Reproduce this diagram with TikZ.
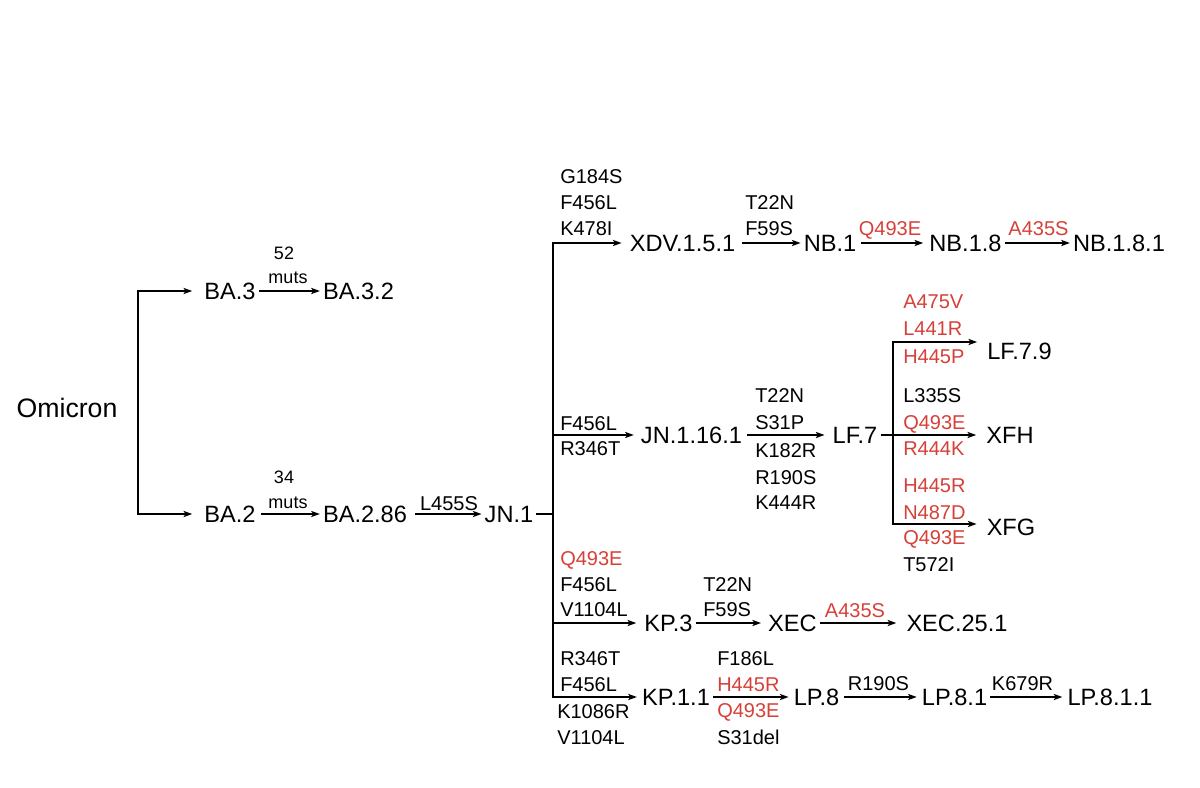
\documentclass[tikz,border=0pt]{standalone}
\usepackage{fontspec}
\setmainfont{Liberation Sans}
\usetikzlibrary{arrows.meta}
\definecolor{mutred}{RGB}{214,64,56}
\begin{document}
\begin{tikzpicture}[x=0.75pt,y=-0.75pt,
  lin/.style={line width=1.15pt},
  arr/.style={lin,-{Stealth[length=6.5pt,width=4.6pt,inset=1.5pt]}},
  lineage/.style={font=\fontsize{17.7}{20}\selectfont, inner xsep=2.2pt, inner ysep=0pt, text height=12.7pt, text depth=0pt},
  mut/.style={font=\fontsize{15}{18}\selectfont, inner sep=0pt, text height=10.7pt, text depth=0pt},
  mutl/.style={mut, anchor=west},
  rmut/.style={text=mutred},
  smalltxt/.style={font=\fontsize{13.5}{16}\selectfont, inner sep=0pt, text height=9.7pt, text depth=0pt}]
\useasboundingbox (0,0) rectangle (1200,788);

% lineage nodes
\node[lineage, font=\fontsize{20}{24}\selectfont, text height=14.3pt] (omicron) at (67,408) {Omicron};
\node[lineage] (ba3)   at (230,291)   {BA.3};
\node[lineage] (ba32)  at (358.5,291) {BA.3.2};
\node[lineage] (ba2)   at (230,514)   {BA.2};
\node[lineage] (ba286) at (365,514)   {BA.2.86};
\node[lineage] (jn1)   at (509,514)   {JN.1};
\node[lineage] (xdv)   at (682.5,243) {XDV.1.5.1};
\node[lineage] (nb1)   at (830,243)   {NB.1};
\node[lineage] (nb18)  at (965.5,243) {NB.1.8};
\node[lineage] (nb181) at (1119,243)  {NB.1.8.1};
\node[lineage] (jn116) at (691.5,435) {JN.1.16.1};
\node[lineage] (lf7)   at (855,435)   {LF.7};
\node[lineage] (lf79)  at (1019.5,351) {LF.7.9};
\node[lineage] (xfh)   at (1010,435)  {XFH};
\node[lineage] (xfg)   at (1011,527)  {XFG};
\node[lineage] (kp3)   at (668.5,623) {KP.3};
\node[lineage] (xec)   at (792.5,623) {XEC};
\node[lineage] (xec251) at (957,623)  {XEC.25.1};
\node[lineage] (kp11)  at (676,697)   {KP.1.1};
\node[lineage] (lp8)   at (816.5,697) {LP.8};
\node[lineage] (lp81)  at (954.5,697) {LP.8.1};
\node[lineage] (lp811) at (1110,697)  {LP.8.1.1};

% split points
\coordinate (omsplit) at (138,408);
\coordinate (jsplit) at (553,514);
\coordinate (lsplit) at (893,435);

% connectors
\draw[arr, shorten >=6.75pt] (omsplit) |- (ba3.west);
\draw[arr, shorten >=6.75pt] (omsplit) |- (ba2.west);
\draw[arr] (ba3) -- (ba32);
\draw[arr, shorten <=1.5pt] (ba2) -- (ba286);
\draw[arr, shorten <=3.75pt] (ba286) -- (jn1);
\draw[lin] (jn1.east) -- (jsplit);
\draw[arr, shorten >=3.75pt] (jsplit) |- (xdv.west);
\draw[arr, shorten >=3pt] (jsplit) |- (jn116.west);
\draw[arr, shorten >=3.75pt] (jsplit) |- (kp3.west);
\draw[arr, shorten >=1.5pt] (jsplit) |- (kp11.west);
\draw[arr, shorten <=3pt] (xdv) -- (nb1);
\draw[arr, shorten <=1.5pt, shorten >=2.25pt] (nb1) -- (nb18);
\draw[arr] (nb18) -- (nb181);
\draw[arr, shorten <=1.5pt, shorten >=3.75pt] (jn116) -- (lf7);
\draw[lin] (lf7.east) -- (lsplit);
\draw[arr, shorten >=5.25pt] (lsplit) |- ([yshift=6.75pt]lf79.west);
\draw[arr, shorten >=5.25pt] (lsplit) -- (xfh.west);
\draw[arr, shorten >=5.25pt] (lsplit) |- ([yshift=2.25pt]xfg.west);
\draw[arr, shorten >=3pt] (kp3) -- (xec);
\draw[arr, shorten >=5.25pt] (xec) -- (xec251);
\draw[arr, shorten >=1.5pt] (kp11) -- (lp8);
\draw[arr, shorten <=1.5pt, shorten >=1.5pt] (lp8) -- (lp81);
\draw[arr, shorten >=1.5pt] (lp81) -- (lp811);

% mutation labels
\node[smalltxt] (m52) at (284,253) {52};
\node[smalltxt] (mu1) at (288,277) {muts};
\node[smalltxt] (m34) at (284,477) {34};
\node[smalltxt] (mu2) at (288,502) {muts};
\node[mut] (l455s) at (449,503) {L455S};

\node[mutl] (a1) at (560,176) {G184S};
\node[mutl] (a2) at (560,202) {F456L};
\node[mutl] (a3) at (560,228) {K478I};
\node[mutl] (b1) at (745,202) {T22N};
\node[mutl] (b2) at (745,228) {F59S};
\node[mut, rmut] (c1) at (890,228) {Q493E};
\node[mut, rmut] (d1) at (1038.5,228) {A435S};

\node[mutl] (e1) at (560,423) {F456L};
\node[mutl] (e2) at (560,448) {R346T};
\node[mutl] (f1) at (755,395) {T22N};
\node[mutl] (f2) at (755,422) {S31P};
\node[mutl] (f3) at (755,450) {K182R};
\node[mutl] (f4) at (755,477) {R190S};
\node[mutl] (f5) at (755,502) {K444R};

\node[mutl, rmut] (g1) at (903,301) {A475V};
\node[mutl, rmut] (g2) at (903,328) {L441R};
\node[mutl, rmut] (g3) at (903,356) {H445P};
\node[mutl] (h1) at (903,395) {L335S};
\node[mutl, rmut] (h2) at (903,422) {Q493E};
\node[mutl, rmut] (h3) at (903,448) {R444K};
\node[mutl, rmut] (i1) at (903,485) {H445R};
\node[mutl, rmut] (i2) at (903,512) {N487D};
\node[mutl, rmut] (i3) at (903,537) {Q493E};
\node[mutl] (i4) at (903,564) {T572I};

\node[mutl, rmut] (j1) at (560,558) {Q493E};
\node[mutl] (j2) at (560,584) {F456L};
\node[mutl] (j3) at (560,609) {V1104L};
\node[mutl] (k1) at (703,584) {T22N};
\node[mutl] (k2) at (703,609) {F59S};
\node[mut, rmut] (k3) at (855,610) {A435S};

\node[mutl] (n1) at (560,658) {R346T};
\node[mutl] (n2) at (560,684) {F456L};
\node[mutl] (n3) at (557,711) {K1086R};
\node[mutl] (n4) at (557,737) {V1104L};
\node[mutl] (o1) at (717,658) {F186L};
\node[mutl, rmut] (o2) at (717,684) {H445R};
\node[mutl, rmut] (o3) at (717,710) {Q493E};
\node[mutl] (o4) at (717,737) {S31del};
\node[mut] (p1) at (878.5,683) {R190S};
\node[mut] (p2) at (1022.5,683) {K679R};
\end{tikzpicture}
\end{document}
